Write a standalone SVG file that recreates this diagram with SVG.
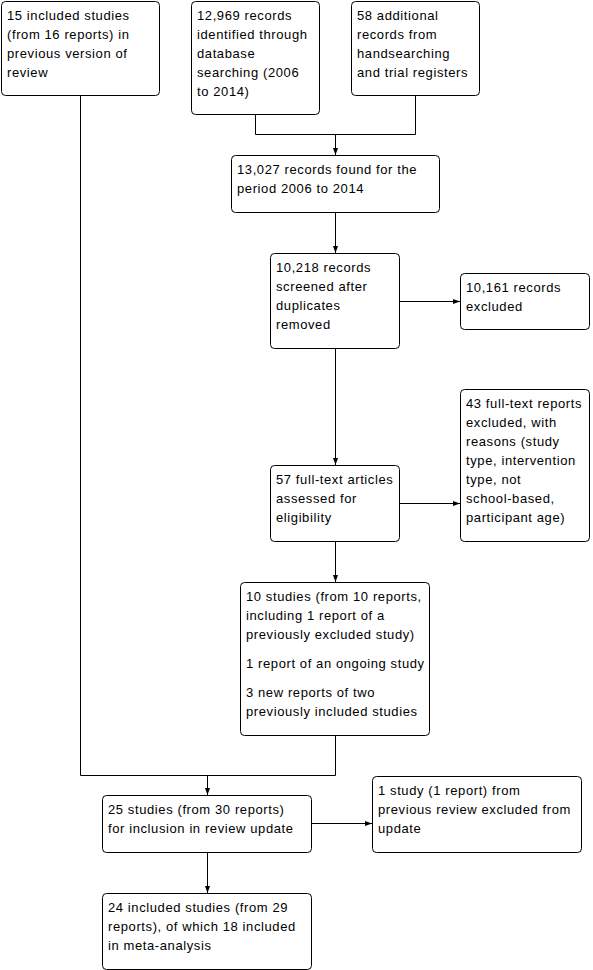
<svg xmlns="http://www.w3.org/2000/svg" width="593" height="970" viewBox="0 0 593 970">
<defs>
<marker id="ah" markerUnits="userSpaceOnUse" markerWidth="8" markerHeight="6" refX="7" refY="3" orient="auto">
<path d="M0,0.5 L7,3 L0,5.5 Z" fill="#000"/>
</marker>
<style>
.box{fill:#fff;stroke:#000;stroke-width:1}
.t{font-family:"Liberation Sans",Arial,sans-serif;font-size:13px;letter-spacing:0.6px;fill:#000}
.c{fill:none;stroke:#000;stroke-width:1}
.a{marker-end:url(#ah)}
</style>
</defs>
<rect width="593" height="970" fill="#fff"/>
<g id="connectors">
<path class="c" d="M255.5,114 V134.5 H415.5 V95"/>
<path class="c a" d="M335.5,134.5 V155"/>
<path class="c a" d="M335.5,212 V253"/>
<path class="c a" d="M399,301.5 H460"/>
<path class="c a" d="M335.5,348 V465"/>
<path class="c a" d="M399,503.5 H460"/>
<path class="c a" d="M335.5,541 V582"/>
<path class="c" d="M335.5,735 V775.5 H80.5 V95"/>
<path class="c a" d="M207.5,775.5 V795"/>
<path class="c a" d="M311,823.5 H372"/>
<path class="c a" d="M207.5,852 V893"/>
</g>
<g id="n1"><rect class="box" x="1.5" y="1.5" width="158" height="94" rx="4"/>
<text class="t" x="7" y="20">15 included studies</text><text class="t" x="7" y="39">(from 16 reports) in</text><text class="t" x="7" y="58">previous version of</text><text class="t" x="7" y="77">review</text></g>
<g id="n2"><rect class="box" x="191.5" y="1.5" width="128" height="113" rx="4"/>
<text class="t" x="197" y="20">12,969 records</text><text class="t" x="197" y="39">identified through</text><text class="t" x="197" y="58">database</text><text class="t" x="197" y="77">searching (2006</text><text class="t" x="197" y="96">to 2014)</text></g>
<g id="n3"><rect class="box" x="351.5" y="1.5" width="128" height="94" rx="4"/>
<text class="t" x="357" y="20">58 additional</text><text class="t" x="357" y="39">records from</text><text class="t" x="357" y="58">handsearching</text><text class="t" x="357" y="77">and trial registers</text></g>
<g id="n4"><rect class="box" x="231.5" y="155.5" width="208" height="57" rx="4"/>
<text class="t" x="237" y="174">13,027 records found for the</text><text class="t" x="237" y="193">period 2006 to 2014</text></g>
<g id="n5"><rect class="box" x="270.5" y="253.5" width="129" height="95" rx="4"/>
<text class="t" x="276" y="272">10,218 records</text><text class="t" x="276" y="291">screened after</text><text class="t" x="276" y="310">duplicates</text><text class="t" x="276" y="329">removed</text></g>
<g id="n6"><rect class="box" x="460.5" y="273.5" width="129" height="56" rx="4"/>
<text class="t" x="466" y="292">10,161 records</text><text class="t" x="466" y="311">excluded</text></g>
<g id="n7"><rect class="box" x="270.5" y="465.5" width="129" height="76" rx="4"/>
<text class="t" x="276" y="484">57 full-text articles</text><text class="t" x="276" y="503">assessed for</text><text class="t" x="276" y="522">eligibility</text></g>
<g id="n8"><rect class="box" x="460.5" y="389.5" width="129" height="152" rx="4"/>
<text class="t" x="466" y="408">43 full-text reports</text><text class="t" x="466" y="427">excluded, with</text><text class="t" x="466" y="446">reasons (study</text><text class="t" x="466" y="465">type, intervention</text><text class="t" x="466" y="484">type, not</text><text class="t" x="466" y="503">school-based,</text><text class="t" x="466" y="522">participant age)</text></g>
<g id="n9"><rect class="box" x="240.5" y="582.5" width="189" height="153" rx="4"/>
<text class="t" x="246" y="601">10 studies (from 10 reports,</text><text class="t" x="246" y="620">including 1 report of a</text><text class="t" x="246" y="639">previously excluded study)</text><text class="t" x="246" y="668">1 report of an ongoing study</text><text class="t" x="246" y="697">3 new reports of two</text><text class="t" x="246" y="716">previously included studies</text></g>
<g id="n10"><rect class="box" x="102.5" y="795.5" width="209" height="57" rx="4"/>
<text class="t" x="108" y="814">25 studies (from 30 reports)</text><text class="t" x="108" y="833">for inclusion in review update</text></g>
<g id="n11"><rect class="box" x="372.5" y="776.5" width="209" height="76" rx="4"/>
<text class="t" x="378" y="795">1 study (1 report) from</text><text class="t" x="378" y="814">previous review excluded from</text><text class="t" x="378" y="833">update</text></g>
<g id="n12"><rect class="box" x="102.5" y="893.5" width="209" height="76" rx="4"/>
<text class="t" x="108" y="912">24 included studies (from 29</text><text class="t" x="108" y="931">reports), of which 18 included</text><text class="t" x="108" y="950">in meta-analysis</text></g>
</svg>
